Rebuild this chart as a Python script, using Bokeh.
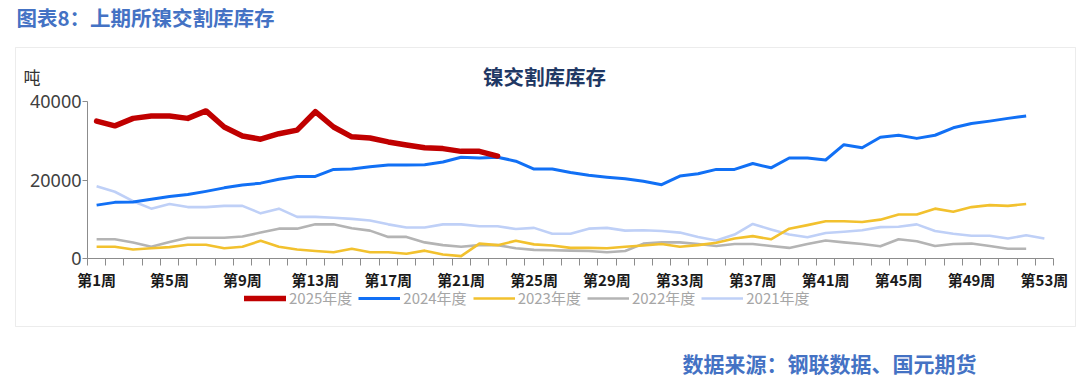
from bokeh.plotting import figure
from bokeh.models import Range1d, FixedTicker, Label, Legend, LegendItem, BoxAnnotation
from bokeh.embed import file_html
from bokeh.resources import INLINE

# ---------------- data ----------------
weeks_2025 = list(range(1, 24))
stock_2025 = [35000, 33800, 35700, 36300, 36300, 35700, 37600, 33500, 31200, 30400,
              31800, 32700, 37400, 33500, 31000, 30700, 29700, 28900, 28200, 28000,
              27300, 27300, 26100]

weeks_2024 = list(range(1, 53))
stock_2024 = [13600, 14300, 14400, 15100, 15800, 16300, 17100, 18000, 18700, 19200,
              20200, 20900, 20900, 22700, 22800, 23400, 23800, 23800, 23900, 24600,
              25800, 25600, 25800, 24800, 22800, 22800, 21900, 21200, 20700, 20300,
              19700, 18800, 21000, 21600, 22700, 22700, 24200, 23100, 25600, 25600,
              25100, 29000, 28200, 30900, 31400, 30600, 31400, 33300, 34400, 35000,
              35700, 36300]

weeks_2023 = list(range(1, 53))
stock_2023 = [3000, 3000, 2300, 2600, 2900, 3500, 3500, 2600, 3000, 4500,
              3000, 2300, 1900, 1600, 2500, 1600, 1600, 1200, 2000, 1000,
              600, 3800, 3400, 4500, 3600, 3300, 2700, 2700, 2600, 3000,
              3300, 3700, 3000, 3400, 4000, 5100, 5700, 4900, 7600, 8500,
              9500, 9500, 9300, 9900, 11200, 11200, 12700, 11900, 13100, 13600,
              13400, 13900]

weeks_2022 = list(range(1, 53))
stock_2022 = [4900, 4900, 4100, 3000, 4200, 5300, 5300, 5300, 5600, 6600,
              7600, 7600, 8700, 8700, 7700, 7100, 5500, 5500, 4100, 3400,
              3000, 3400, 3400, 2600, 2200, 2100, 2000, 1900, 1600, 1900,
              3800, 4100, 4100, 3700, 3200, 3700, 3700, 3200, 2700, 3700,
              4600, 4100, 3700, 3100, 4900, 4400, 3200, 3700, 3800, 3200,
              2500, 2500]

weeks_2021 = list(range(1, 54))
stock_2021 = [18400, 17000, 14600, 12700, 13900, 13100, 13100, 13400, 13400, 11500,
              12700, 10600, 10600, 10400, 10100, 9700, 8700, 7900, 7900, 8700,
              8700, 8200, 8200, 7500, 7800, 6300, 6300, 7600, 7800, 7100,
              7200, 7000, 6600, 5500, 4600, 6100, 8800, 7400, 6100, 5400,
              6500, 6800, 7200, 8000, 8100, 8700, 7000, 6300, 5800, 5800,
              5100, 5900, 5100]

series_names = ["2025年度", "2024年度", "2023年度", "2022年度", "2021年度"]
label_weeks = list(range(1, 54, 4))
y_ticks = [0, 20000, 40000]
n_weeks = 53
y_max = 40000

header_text = "图表8：上期所镍交割库库存"
chart_title = "镍交割库库存"
unit_text = "吨"
source_text = "数据来源：钢联数据、国元期货"

# ---------------- layout geometry (page pixels) ----------------
W, H = 1080, 385
AX_L, AX_R = 87, 1053      # x pixel of week 0.5 and week 53.5
AX_B, AX_T = 258, 101      # y pixel of 0 and 40000

ppw = (AX_R - AX_L) / n_weeks
vpp = y_max / (AX_B - AX_T)
x_range = Range1d(0.5 - AX_L / ppw, n_weeks + 0.5 + (W - AX_R) / ppw)
y_range = Range1d(-(H - AX_B) * vpp, y_max + AX_T * vpp)

p = figure(width=W, height=H, output_backend="svg", toolbar_location=None,
           title=None, x_range=x_range, y_range=y_range,
           min_border_left=0, min_border_right=0, min_border_top=0, min_border_bottom=0)
p.outline_line_color = None
p.xgrid.visible = False
p.ygrid.visible = False
p.background_fill_color = "white"
p.border_fill_color = "white"

ax_col = "#8c8c8c"
p.yaxis.fixed_location = 0.5
p.yaxis.bounds = (0, y_max)
p.yaxis.ticker = FixedTicker(ticks=y_ticks)
p.yaxis.axis_line_color = ax_col
p.yaxis.major_tick_line_color = ax_col
p.yaxis.major_tick_out = 5
p.yaxis.major_tick_in = 0
p.yaxis.minor_tick_line_color = None
p.yaxis.major_label_text_font = "Noto Sans"
p.yaxis.major_label_text_font_size = "18px"
p.yaxis.major_label_text_color = "#404040"
p.yaxis.major_label_standoff = 1

p.xaxis.fixed_location = 0
p.xaxis.bounds = (0.5, n_weeks + 0.5)
p.xaxis.ticker = FixedTicker(ticks=label_weeks,
                             minor_ticks=[0.5 + i for i in range(n_weeks + 1)])
p.xaxis.axis_line_color = ax_col
p.xaxis.major_tick_line_color = None
p.xaxis.major_tick_out = 0
p.xaxis.major_tick_in = 0
p.xaxis.minor_tick_line_color = ax_col
p.xaxis.minor_tick_out = 7
p.xaxis.minor_tick_in = 0
p.xaxis.major_label_overrides = {w: f"第{w}周" for w in label_weeks}
p.xaxis.major_label_text_font = "Noto Sans CJK SC"
p.xaxis.major_label_text_font_style = "bold"
p.xaxis.major_label_text_font_size = "15px"
p.xaxis.major_label_text_color = "#1a1a1a"
p.xaxis.major_label_standoff = 3

r21 = p.line(weeks_2021, stock_2021, line_color="#BFD0F7", line_width=2.6, line_join="round")
r22 = p.line(weeks_2022, stock_2022, line_color="#B4B4B4", line_width=2.6, line_join="round")
r23 = p.line(weeks_2023, stock_2023, line_color="#F2C12E", line_width=2.6, line_join="round")
r24 = p.line(weeks_2024, stock_2024, line_color="#1170F5", line_width=3, line_join="round")
r25 = p.line(weeks_2025, stock_2025, line_color="#C00000", line_width=5.5,
             line_join="round", line_cap="round")

legend = Legend(items=[LegendItem(label=series_names[0], renderers=[r25]),
                       LegendItem(label=series_names[1], renderers=[r24]),
                       LegendItem(label=series_names[2], renderers=[r23]),
                       LegendItem(label=series_names[3], renderers=[r22]),
                       LegendItem(label=series_names[4], renderers=[r21])],
                orientation="horizontal", location=(244, H - 308), padding=0, margin=0,
                spacing=6, label_standoff=3, glyph_width=42, glyph_height=16,
                label_height=16, border_line_color=None, background_fill_alpha=0,
                label_text_font="Noto Sans CJK SC", label_text_font_size="15px",
                label_text_color="#A6A6A6")
p.add_layout(legend)

p.add_layout(BoxAnnotation(left=15, right=1075, top=H - 47, bottom=H - 326,
                           left_units="screen", right_units="screen",
                           top_units="screen", bottom_units="screen",
                           fill_alpha=0, line_color="#BFBFBF", line_width=1))

def add_text(px, py, text, size, color, bold=False, align="left"):
    p.add_layout(Label(x=px, y=H - py, x_units="screen", y_units="screen",
                       text=text, text_font="Noto Sans CJK SC",
                       text_font_style="bold" if bold else "normal",
                       text_font_size=size, text_color=color,
                       text_align=align, text_baseline="middle"))

add_text(16, 16, header_text, "20.5px", "#4472C4", bold=True)
add_text(544, 75, chart_title, "20.5px", "#1F3864", bold=True, align="center")
add_text(23, 76, unit_text, "17px", "#333333")
add_text(682, 362, source_text, "21px", "#4472C4", bold=True)

open("out.html", "w").write(file_html(p, INLINE))
